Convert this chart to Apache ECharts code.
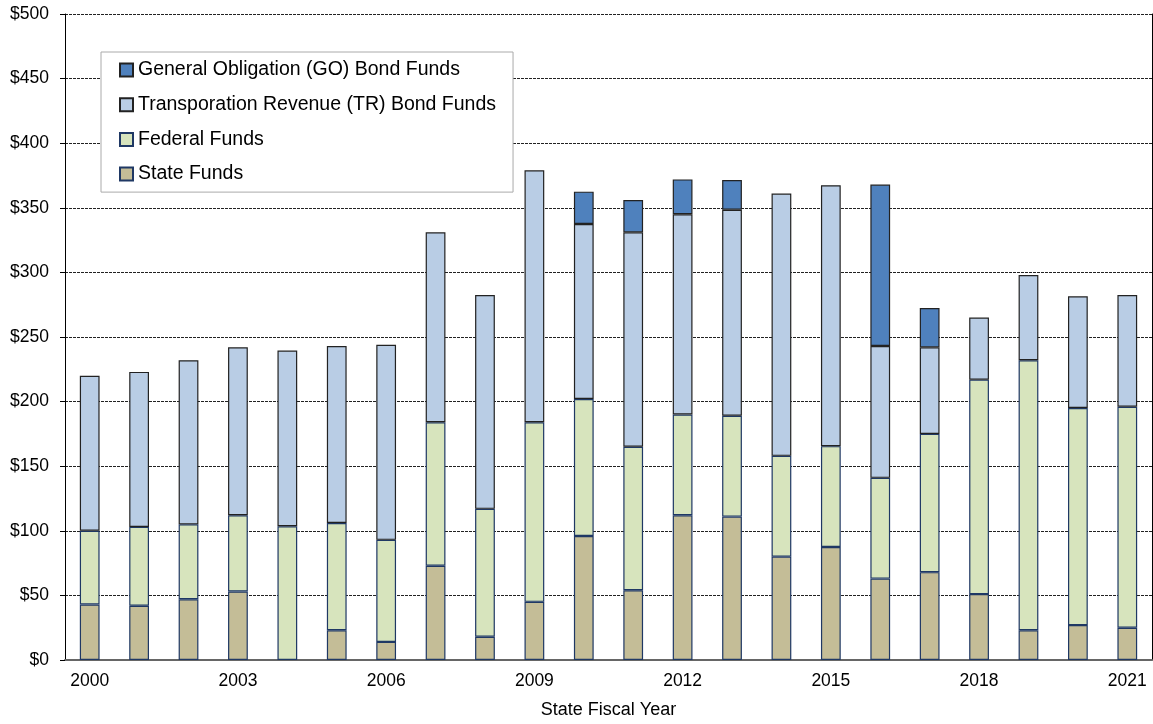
<!DOCTYPE html>
<html><head><meta charset="utf-8">
<script src="https://cdn.jsdelivr.net/npm/echarts@6/dist/echarts.min.js"></script>
<style>html,body{margin:0;padding:0;background:#fff}#c{width:1153px;height:724px}</style>
</head><body><div id="c"></div>
<script>
const years = ['2000','2001','2002','2003','2004','2005','2006','2007','2008','2009','2010','2011','2012','2013','2014','2015','2016','2017','2018','2019','2020','2021'];
const stateFunds   = [43, 42, 47, 53, 0, 23, 14, 73, 18, 45, 96, 54, 112, 111, 80, 87.5, 63, 68, 51, 23, 27, 25];
const federalFunds = [57, 61, 58, 59, 103.5, 83, 79, 111, 99, 139, 106, 111, 78, 78, 78, 78, 78, 107, 166, 209, 168, 171];
const trBondFunds  = [120, 120, 127, 130, 136, 137, 151, 147, 165.5, 195, 135.5, 166, 155, 159.5, 203, 202, 102, 67, 48, 66, 86.5, 86.5];
const goBondFunds  = [0, 0, 0, 0, 0, 0, 0, 0, 0, 0, 25, 25, 27, 23, 0, 0, 125, 30.5, 0, 0, 0, 0];
const yTicks = [0, 50, 100, 150, 200, 250, 300, 350, 400, 450, 500];

const font = '"Liberation Sans", Arial, sans-serif';
const chart = echarts.init(document.getElementById('c'), null, {renderer: 'canvas'});
function ser(name, data, color, border) {
  return {
    name, type: 'bar', stack: 'total', data: data.map(v => v === 0 ? null : v),
    barWidth: '40%',
    itemStyle: {color, borderColor: border, borderWidth: 1.2},
    emphasis: {disabled: true}
  };
}
chart.setOption({
  animation: false,
  textStyle: {fontFamily: font},
  grid: {left: 65, right: 1, top: 14, bottom: 64},
  legend: {
    orient: 'vertical', left: 101, top: 52,
    data: ['General Obligation (GO) Bond Funds', 'Transporation Revenue (TR) Bond Funds', 'Federal Funds', 'State Funds'],
    backgroundColor: '#fff', borderColor: '#aaaaaa', borderWidth: 1,
    padding: [8, 17, 8, 18],
    itemWidth: 13, itemHeight: 13, itemGap: 14.7,
    icon: 'rect',
    textStyle: {fontFamily: font, fontSize: 19.5, color: '#000', lineHeight: 20}
  },
  xAxis: {
    type: 'category', data: years,
    name: 'State Fiscal Year', nameLocation: 'middle', nameGap: 41,
    nameTextStyle: {fontFamily: font, fontSize: 18, color: '#000'},
    axisLine: {lineStyle: {color: '#666', width: 2}},
    axisTick: {show: false},
    axisLabel: {interval: 2, fontFamily: font, fontSize: 17.5, color: '#000', margin: 12}
  },
  yAxis: [{
    type: 'value', min: 0, max: 500, interval: 50,
    axisLine: {show: true, lineStyle: {color: '#000', width: 1}},
    axisTick: {show: true, length: 5, lineStyle: {color: '#000'}},
    axisLabel: {fontFamily: font, fontSize: 17.5, color: '#000', margin: 16,
      formatter: v => yTicks.includes(v) ? '$' + v : ''},
    splitLine: {show: true, lineStyle: {color: '#222', type: [3, 1], width: 1}}
  }, {
    type: 'value', min: 0, max: 500, interval: 50, position: 'right',
    axisLine: {show: true, lineStyle: {color: '#000', width: 1}},
    axisTick: {show: false}, axisLabel: {show: false}, splitLine: {show: false}
  }],
  series: [
    ser('State Funds', stateFunds, '#c4bd97', '#1f3864'),
    ser('Federal Funds', federalFunds, '#d7e4bd', '#1f3864'),
    ser('Transporation Revenue (TR) Bond Funds', trBondFunds, '#b9cde5', '#222'),
    ser('General Obligation (GO) Bond Funds', goBondFunds, '#4f81bd', '#222')
  ]
});
</script></body></html>
